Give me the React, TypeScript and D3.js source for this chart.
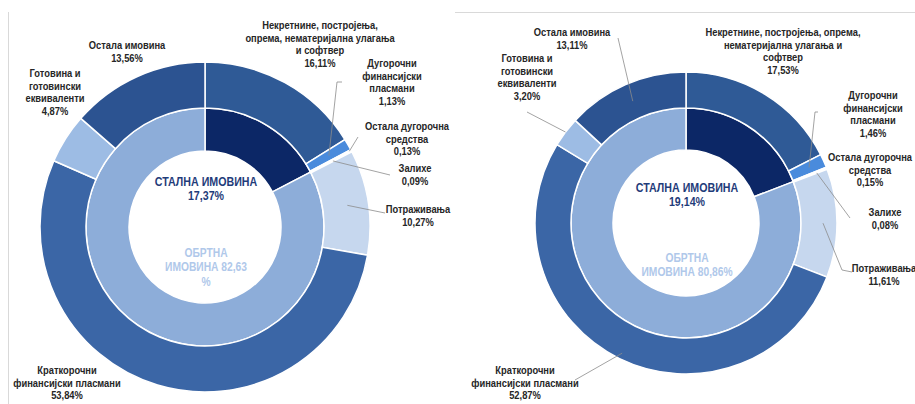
import React from "react";
import * as d3 from "d3";

// ---- Data ----
const outerCategories = [
  "Некретнине, постројења, опрема, нематеријална улагања и софтвер",
  "Дугорочни финансијски пласмани",
  "Остала дугорочна средства",
  "Залихе",
  "Потраживања",
  "Краткорочни финансијски пласмани",
  "Готовина и готовински еквиваленти",
  "Остала имовина",
];
const outerValuesA = [16.11, 1.13, 0.13, 0.09, 10.27, 53.84, 4.87, 13.56];
const outerValuesB = [17.53, 1.46, 0.15, 0.08, 11.61, 52.87, 3.2, 13.11];
const innerCategories = ["СТАЛНА ИМОВИНА", "ОБРТНА ИМОВИНА"];
const innerValuesA = [17.37, 82.63];
const innerValuesB = [19.14, 80.86];

// label text lines (name part) per chart
const labelLinesA = [
  ["Некретнине, постројења,", "опрема, нематеријална улагања", "и софтвер"],
  ["Дугорочни", "финансијски", "пласмани"],
  ["Остала дугорочна", "средства"],
  ["Залихе"],
  ["Потраживања"],
  ["Краткорочни", "финансијски пласмани"],
  ["Готовина и", "готовински", "еквиваленти"],
  ["Остала имовина"],
];
const labelLinesB = [
  ["Некретнине, постројења, опрема,", "нематеријална улагања и", "софтвер"],
  ["Дугорочни", "финансијски", "пласмани"],
  ["Остала дугорочна", "средства"],
  ["Залихе"],
  ["Потраживања"],
  ["Краткорочни", "финансијски пласмани"],
  ["Готовина и", "готовински", "еквиваленти"],
  ["Остала имовина"],
];
const innerLinesA = [["СТАЛНА ИМОВИНА", "17,37%"], ["ОБРТНА", "ИМОВИНА 82,63", "%"]];
const innerLinesB = [["СТАЛНА ИМОВИНА", "19,14%"], ["ОБРТНА", "ИМОВИНА 80,86%"]];

// ---- Styles / layout ----
const outerColors = ["#2f5a96", "#4a8bdc", "#4a8bdc", "#bcd0ec", "#c6d7ee", "#3b66a6", "#9dbce4", "#2c5391"];
const innerColors = ["#0c2766", "#8dadd9"];
const innerTextColors = ["#1f3c7a", "#b0c8ea"];

type LabelPos = { x: number; y: number; leader?: [number, number][]; leaderR?: number };

const chartA = {
  cx: 205, cy: 227, rHole: 76, rMid: 119, rOuter: 165,
  outer: outerValuesA, inner: innerValuesA, lines: labelLinesA, innerLines: innerLinesA,
  innerY: [182, 253],
  labels: [
    { x: 320, y: 25 },
    { x: 392, y: 63, leader: [[342, 82], [337, 82]], leaderR: 143 },
    { x: 407, y: 126, leader: [[358, 137]], leaderR: 163 },
    { x: 415, y: 168, leader: [[390, 175]], leaderR: 144 },
    { x: 418, y: 209, leader: [[385, 213]], leaderR: 144 },
    { x: 67, y: 370 },
    { x: 55, y: 73 },
    { x: 127, y: 45 },
  ] as LabelPos[],
};
const chartB = {
  cx: 686, cy: 223, rHole: 73, rMid: 115, rOuter: 151,
  outer: outerValuesB, inner: innerValuesB, lines: labelLinesB, innerLines: innerLinesB,
  innerY: [188, 258],
  labels: [
    { x: 783, y: 32 },
    { x: 873, y: 95, leader: [[818, 112], [815, 112]], leaderR: 135 },
    { x: 870, y: 157 },
    { x: 885, y: 212, leader: [[850, 218]], leaderR: 140 },
    { x: 884, y: 268, leader: [[852, 272], [842, 270]], leaderR: 137 },
    { x: 525, y: 370, leader: [[575, 380]], leaderR: 145 },
    { x: 527, y: 58, leader: [[527, 112]], leaderR: 151 },
    { x: 572, y: 32, leader: [[618, 38]], leaderR: 133 },
  ] as LabelPos[],
};

const LH = 12.6;
const SX = 0.82; // horizontal condensing (Arial Narrow look)
const FONT = "'Liberation Sans', Arial, sans-serif";
const fmt = (v: number) => d3.format(".2f")(v).replace(".", ",") + "%";

function Donut({ c }: { c: typeof chartA }) {
  const pie = d3.pie<number>().sort(null).value((d) => d).startAngle(0).endAngle(2 * Math.PI);
  const outerArcs = pie(c.outer);
  const innerArcs = pie(c.inner);
  const arcOuter = d3.arc<d3.PieArcDatum<number>>().innerRadius(c.rMid).outerRadius(c.rOuter);
  const arcInner = d3.arc<d3.PieArcDatum<number>>().innerRadius(c.rHole).outerRadius(c.rMid);
  return (
    <g>
      <g transform={`translate(${c.cx},${c.cy})`}>
        {innerArcs.map((a, i) => (
          <path key={"i" + i} d={arcInner(a) || ""} fill={innerColors[i]} stroke="#fff" strokeWidth={1.5} />
        ))}
        {outerArcs.map((a, i) => (
          <path key={"o" + i} d={arcOuter(a) || ""} fill={outerColors[i]} stroke="#fff" strokeWidth={1.5} />
        ))}
      </g>
      {/* leader lines */}
      {outerArcs.map((a, i) => {
        const lp = c.labels[i];
        if (!lp.leader) return null;
        const mid = (a.startAngle + a.endAngle) / 2;
        const r = lp.leaderR || c.rOuter;
        const end: [number, number] = [c.cx + r * Math.sin(mid), c.cy - r * Math.cos(mid)];
        const pts = [...lp.leader, end];
        return (
          <path key={"l" + i} d={d3.line()(pts) || ""} fill="none" stroke="#8c8c8c" strokeWidth={0.8} />
        );
      })}
      {/* outer labels */}
      {outerArcs.map((a, i) => {
        const lp = c.labels[i];
        const lines = [...c.lines[i], fmt(c.outer[i])];
        return (
          <g key={"t" + i} transform={`translate(${lp.x},${lp.y + 4}) scale(${SX},1)`}>
            <text x={0} y={0} textAnchor="middle" fontFamily={FONT} fontWeight="bold" fontSize={11.4} fill="#262626">
              {lines.map((t, j) => (
                <tspan key={j} x={0} dy={j === 0 ? 0 : LH}>{t}</tspan>
              ))}
            </text>
          </g>
        );
      })}
      {/* inner labels */}
      {c.innerLines.map((ls, i) => (
        <g key={"c" + i} transform={`translate(${c.cx + 1},${c.innerY[i] + 4}) scale(${SX},1)`}>
          <text x={0} y={0} textAnchor="middle" fontFamily={FONT} fontWeight="bold" fontSize={i === 0 ? 13 : 12.5} fill={innerTextColors[i]}>
            {ls.map((t, j) => (
              <tspan key={j} x={0} dy={j === 0 ? 0 : 14.5}>{t}</tspan>
            ))}
          </text>
        </g>
      ))}
    </g>
  );
}

export default function App() {
  return (
    <svg width={915} height={404} style={{ position: "absolute", left: 0, top: 0, background: "#fff" }}>
      <line x1={8.5} x2={8.5} y1={12} y2={404} stroke="#d9d9d9" strokeWidth={1} />
      <line x1={455} x2={915} y1={12.5} y2={12.5} stroke="#d9d9d9" strokeWidth={1} />
      <Donut c={chartA} />
      <Donut c={chartB} />
    </svg>
  );
}
